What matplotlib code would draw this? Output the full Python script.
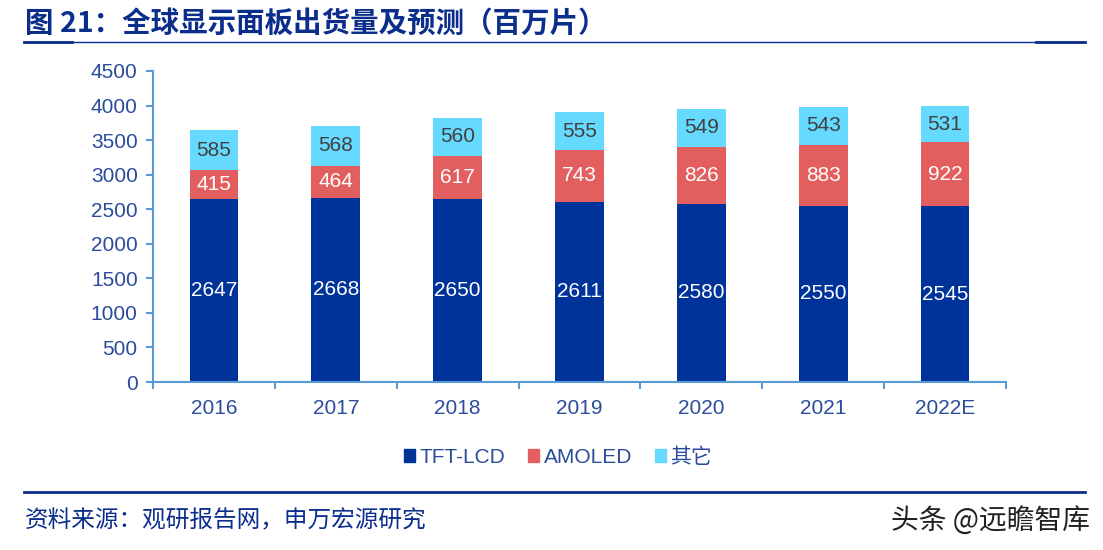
import matplotlib
matplotlib.use("Agg")
import matplotlib.pyplot as plt
from matplotlib.lines import Line2D
from matplotlib.patches import Patch
import numpy as np

categories = ["2016", "2017", "2018", "2019", "2020", "2021", "2022E"]
tft_lcd = [2647, 2668, 2650, 2611, 2580, 2550, 2545]
amoled = [415, 464, 617, 743, 826, 883, 922]
others = [585, 568, 560, 555, 549, 543, 531]
series_names = ["TFT-LCD", "AMOLED", "其它"]
yticks = [0, 500, 1000, 1500, 2000, 2500, 3000, 3500, 4000, 4500]

c_tft = "#003399"
c_amo = "#E35F5F"
c_oth = "#66D9FF"
axis_c = "#5B9BD5"
text_blue = "#2B4C9B"
title_blue = "#0B2D8C"

plt.rcParams['font.family'] = ['Liberation Sans', 'Noto Sans CJK SC', 'DejaVu Sans']
cjk = ['Noto Sans CJK SC', 'DejaVu Sans']

fig = plt.figure(figsize=(11.03, 5.5), dpi=100)
ax = fig.add_axes([153/1103, 1-382/550, (1006-153)/1103, (382-71)/550])

x = np.arange(len(categories))
w = 0.40
ax.bar(x, tft_lcd, w, color=c_tft, zorder=2)
ax.bar(x, amoled, w, bottom=tft_lcd, color=c_amo, zorder=2)
bot3 = np.array(tft_lcd) + np.array(amoled)
ax.bar(x, others, w, bottom=bot3, color=c_oth, zorder=2)

fs = 15
for i in range(len(x)):
    ax.text(x[i], tft_lcd[i] / 2, str(tft_lcd[i]), ha="center", va="center", color="white", fontsize=fs)
    ax.text(x[i], tft_lcd[i] + amoled[i] / 2, str(amoled[i]), ha="center", va="center", color="white", fontsize=fs)
    ax.text(x[i], bot3[i] + others[i] / 2, str(others[i]), ha="center", va="center", color="#404040", fontsize=fs)

ax.set_xlim(-0.5, len(x) - 0.5)
ax.set_ylim(0, 4500)
ax.set_yticks(yticks)
ax.set_yticklabels([str(v) for v in yticks], color=text_blue, fontsize=fs)
ax.set_xticks(x)
ax.set_xticklabels(categories, color=text_blue, fontsize=fs)
ax.tick_params(axis="x", length=0, pad=12)
ax.set_xticks(np.arange(-0.5, len(x), 1.0), minor=True)
ax.tick_params(axis="x", which="minor", length=5, color=axis_c, width=1.5)
ax.tick_params(axis="y", length=5, color=axis_c, width=1.5, pad=6)
for s in ["top", "right"]:
    ax.spines[s].set_visible(False)
for s in ["left", "bottom"]:
    ax.spines[s].set_color(axis_c)
    ax.spines[s].set_linewidth(1.5)

handles = [Patch(color=c_tft), Patch(color=c_amo), Patch(color=c_oth)]
leg = fig.legend(handles, series_names, loc="center", bbox_to_anchor=(558/1103, 1-457/550),
                 ncol=3, frameon=False, fontsize=15, handlelength=0.55, handleheight=0.55,
                 handletextpad=0.2, columnspacing=1.1)
for t in leg.get_texts():
    t.set_color(text_blue)
    t.set_family(['Liberation Sans', 'Noto Sans CJK SC'])

fig.text(25/1103, 1-24/550, "图 21：全球显示面板出货量及预测（百万片）", fontsize=20.5, fontweight="bold",
         color=title_blue, family=cjk, ha="left", va="center")
fig.add_artist(Line2D([24/1103, 1085/1103], [1-42/550, 1-42/550], color=title_blue, lw=1))
fig.add_artist(Line2D([24/1103, 72/1103], [1-42/550, 1-42/550], color=title_blue, lw=2))
fig.add_artist(Line2D([1036/1103, 1085/1103], [1-42/550, 1-42/550], color=title_blue, lw=2))
fig.add_artist(Line2D([24/1103, 1085/1103], [1-492/550, 1-492/550], color=title_blue, lw=2))

fig.text(25/1103, 1-521/550, "资料来源：观研报告网，申万宏源研究", fontsize=17, color=title_blue,
         family=cjk, ha="left", va="center")
fig.text(1090/1103, 1-521/550, "头条 @远瞻智库", fontsize=20, color="#222222",
         family=cjk, ha="right", va="center")

fig.savefig("out.png", dpi=100)
